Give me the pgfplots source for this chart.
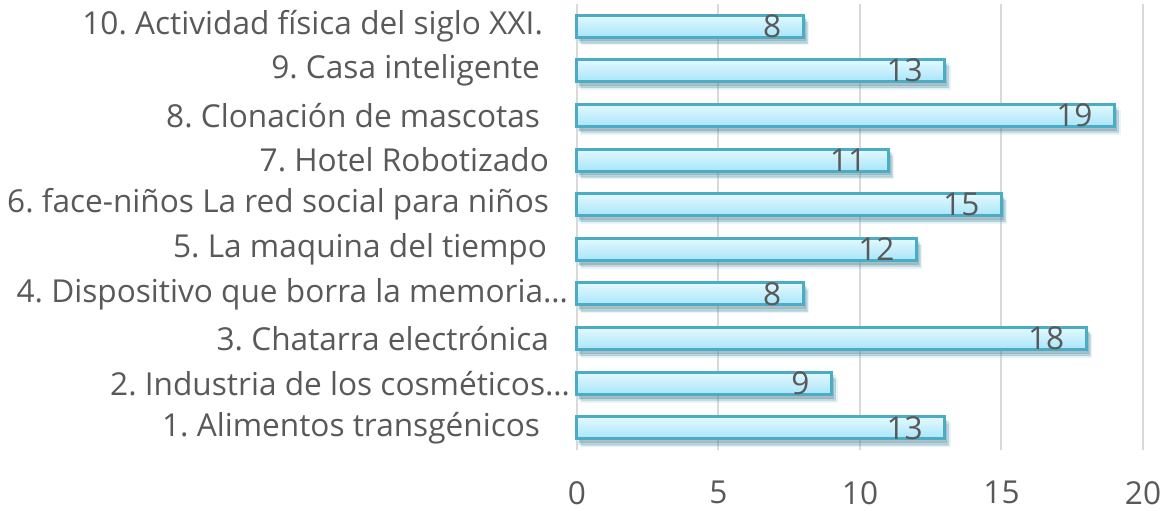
\documentclass[border=0pt]{standalone}
\usepackage{fontspec}
\setmainfont{Open Sans}
\usepackage{pgfplots}
\pgfplotsset{compat=1.18}
\usetikzlibrary{shadows}
\definecolor{txt}{HTML}{595959}
\definecolor{gridc}{HTML}{D9D9D9}
\definecolor{barE}{HTML}{4BACC6}
\definecolor{barT}{HTML}{E3F9FF}
\definecolor{barB}{HTML}{A8E5F9}
\newcommand{\lblfont}{\fontsize{15.8}{18}\selectfont}
\pgfplotsset{
  mybar/.style={xbar, bar width=11pt, bar shift=0pt, draw=barE, line width=1.5pt,
    top color=barT, bottom color=barB,
    drop shadow={shadow xshift=2.2pt, shadow yshift=-3.4pt, fill=black, opacity=0.12},
    drop shadow={shadow xshift=1.2pt, shadow yshift=-2.2pt, fill=black, opacity=0.2},
    point meta=x, nodes near coords,
    every node near coord/.style={anchor=east, xshift=-7pt, text=txt, draw=none, fill=none,
      font=\lblfont}},
}
\begin{document}
\frenchspacing
\begin{tikzpicture}
\useasboundingbox (-288.5pt,-29.85pt) rectangle (295pt,225.15pt);
\begin{axis}[
  at={(0pt,0pt)}, anchor=south west,
  scale only axis, width=283pt, height=223.3pt,
  xmin=0, xmax=20, ymin=0.5, ymax=10.5,
  xtick={0,5,10,15,20}, ytick={1,2,3,4,5,6,7,8,9,10},
  yticklabels={
    {1. Alimentos transgénicos\kern15pt},
    {2. Industria de los cosméticos\ldots},
    {3. Chatarra electrónica\kern10.5pt},
    {4. Dispositivo que borra la memoria\ldots\kern1pt},
    {5. La maquina del tiempo\kern11.5pt},
    {6. face-niños La red social para niños\kern10.5pt},
    {7. Hotel Robotizado\kern10.5pt},
    {8. Clonación de mascotas\kern15pt},
    {9. Casa inteligente\kern15pt},
    {10. Actividad física del siglo XXI.\kern13.5pt}},
  axis lines*=left, axis line style={draw=none},
  tick style={draw=none},
  xmajorgrids, grid style={draw=gridc, line width=1pt},
  ymajorgrids=false,
  /pgf/number format/assume math mode=true,
  ticklabel style={text=txt, font=\lblfont},
  xticklabel style={yshift=-12pt},
  clip=false,
]
\addplot[mybar] coordinates {(13,1)};
\addplot[mybar] coordinates {(9,2)};
\addplot[mybar] coordinates {(18,3)};
\addplot[mybar] coordinates {(8,4)};
\addplot[mybar] coordinates {(12,5)};
\addplot[mybar] coordinates {(15,6)};
\addplot[mybar] coordinates {(11,7)};
\addplot[mybar] coordinates {(19,8)};
\addplot[mybar] coordinates {(13,9)};
\addplot[mybar] coordinates {(8,10)};
\end{axis}
\end{tikzpicture}
\end{document}
